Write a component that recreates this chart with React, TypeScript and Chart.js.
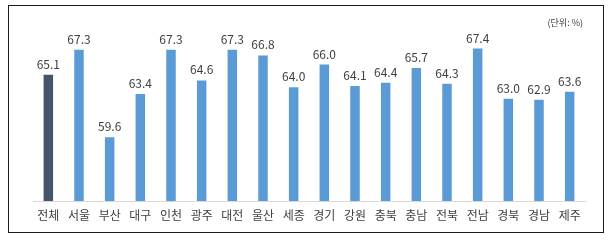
import React, { useEffect, useRef } from "react";
import { Chart, registerables } from "chart.js";

Chart.register(...registerables);

const categories = ["전체", "서울", "부산", "대구", "인천", "광주", "대전", "울산", "세종", "경기", "강원", "충북", "충남", "전북", "전남", "경북", "경남", "제주"];
const values = [65.1, 67.3, 59.6, 63.4, 67.3, 64.6, 67.3, 66.8, 64.0, 66.0, 64.1, 64.4, 65.7, 64.3, 67.4, 63.0, 62.9, 63.6];
const unitLabel = "(단위: %)";
const totalColor = "#44546A";
const regionColor = "#5B9BD5";

const FONT = "'Noto Sans CJK KR', 'Noto Sans', sans-serif";

const labelPlugin = {
  id: "barLabels",
  afterDatasetsDraw(chart: any) {
    const ctx = chart.ctx;
    const meta = chart.getDatasetMeta(0);
    ctx.save();
    ctx.fillStyle = "#404040";
    ctx.font = `12px ${FONT}`;
    ctx.textAlign = "center";
    ctx.textBaseline = "alphabetic";
    meta.data.forEach((bar: any, i: number) => {
      ctx.fillText(values[i].toFixed(1), bar.x, bar.y - 6);
    });
    ctx.font = `9px ${FONT}`;
    ctx.textAlign = "right";
    ctx.textBaseline = "middle";
    ctx.fillStyle = "#404040";
    ctx.fillText(unitLabel, 583, 23);
    ctx.restore();
  },
};

export default function App() {
  const ref = useRef<HTMLCanvasElement>(null);
  useEffect(() => {
    if (!ref.current) return;
    const chart = new Chart(ref.current, {
      type: "bar",
      data: {
        labels: categories,
        datasets: [
          {
            data: values,
            backgroundColor: values.map((_, i) => (i === 0 ? totalColor : regionColor)),
            barPercentage: 0.31,
            categoryPercentage: 1,
          },
        ],
      },
      options: {
        animation: false,
        responsive: false,
        maintainAspectRatio: false,
        layout: { padding: { left: 33, right: 29, top: 19, bottom: 0 } },
        plugins: { legend: { display: false }, tooltip: { enabled: false } },
        scales: {
          x: {
            grid: { display: false, drawTicks: false },
            border: { display: true, color: "#d9d9d9", width: 1 },
            ticks: {
              color: "#404040",
              font: { family: FONT, size: 12 },
              padding: 7,
              maxRotation: 0,
              autoSkip: false,
            },
            afterFit(scale: any) {
              scale.height = 45;
            },
          },
          y: { display: false, min: 54, max: 70 },
        },
      },
      plugins: [labelPlugin],
    });
    return () => chart.destroy();
  }, []);
  return (
    <div style={{ position: "fixed", left: 0, top: 0, width: 614, height: 246, background: "#fff" }}>
      <div
        style={{
          position: "absolute",
          left: 8,
          top: 5,
          width: 594,
          height: 226,
          border: "1.5px solid #1a1a1a",
        }}
      />
      <canvas ref={ref} width={614} height={246} style={{ position: "absolute", left: 0, top: 0 }} />
    </div>
  );
}
